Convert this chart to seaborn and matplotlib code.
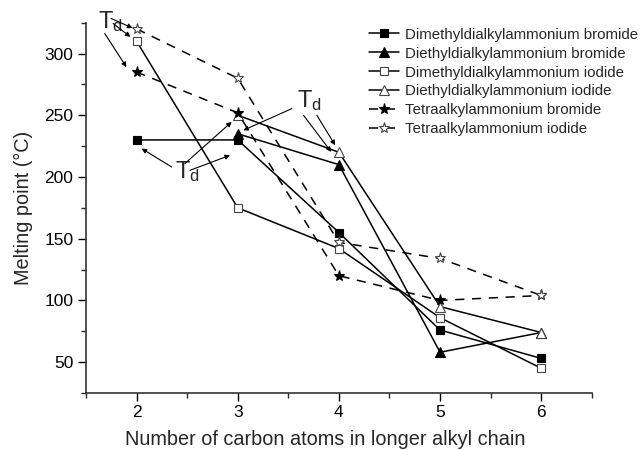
import matplotlib
matplotlib.use("Agg")
import matplotlib.pyplot as plt
import seaborn as sns
import pandas as pd

# Melting points (°C) versus length of the longer alkyl chain
carbons = [2, 3, 4, 5, 6]
dimethyl_bromide = [230, 230, 155, 76, 53]
diethyl_bromide_x = [3, 4, 5, 6]
diethyl_bromide = [235, 210, 58, 74]
dimethyl_iodide = [310, 175, 142, 86, 45]
diethyl_iodide_x = [3, 4, 5, 6]
diethyl_iodide = [250, 220, 95, 74]
tetra_bromide = [285, 252, 120, 100, 104]
tetra_iodide = [320, 280, 147, 134, 104]

series_names = [
    "Dimethyldialkylammonium bromide",
    "Diethyldialkylammonium bromide",
    "Dimethyldialkylammonium iodide",
    "Diethyldialkylammonium iodide",
    "Tetraalkylammonium bromide",
    "Tetraalkylammonium iodide",
]
series_x = [carbons, diethyl_bromide_x, carbons, diethyl_iodide_x, carbons, carbons]
series_y = [dimethyl_bromide, diethyl_bromide, dimethyl_iodide,
            diethyl_iodide, tetra_bromide, tetra_iodide]

frames = []
for name, xs, ys in zip(series_names, series_x, series_y):
    frames.append(pd.DataFrame({"carbons": xs, "mp": ys, "salt": name}))
df = pd.concat(frames, ignore_index=True)

sns.set_theme(style="ticks")
plt.rcParams["font.family"] = ["Liberation Sans", "DejaVu Sans"]
plt.rcParams["mathtext.default"] = "regular"

fig = plt.figure(figsize=(6.44, 4.5), dpi=100)
ax = fig.add_axes([0.1335, 0.1267, 0.7855, 0.8229])

styles = {
    "Dimethyldialkylammonium bromide": dict(marker="s", ls="-", mfc="black", ms=6),
    "Diethyldialkylammonium bromide": dict(marker="^", ls="-", mfc="black", ms=7.5),
    "Dimethyldialkylammonium iodide": dict(marker="s", ls="-", mfc="white", ms=6),
    "Diethyldialkylammonium iodide": dict(marker="^", ls="-", mfc="white", ms=7.5),
    "Tetraalkylammonium bromide": dict(marker="*", ls=(0, (6, 5)), mfc="black", ms=8),
    "Tetraalkylammonium iodide": dict(marker="*", ls=(0, (6, 5)), mfc="white", ms=8),
}

for name in series_names:
    st = styles[name]
    sub = df[df["salt"] == name]
    sns.lineplot(data=sub, x="carbons", y="mp", ax=ax, color="black",
                 marker=st["marker"], linestyle=st["ls"], linewidth=1.1,
                 markersize=st["ms"], markerfacecolor=st["mfc"],
                 markeredgecolor="black" if st["mfc"] == "black" else "#444444",
                 markeredgewidth=0.8, label=name, sort=False, errorbar=None)

ax.set_xlim(1.5, 6.5)
ax.set_ylim(25, 325)
ax.set_xticks([2, 3, 4, 5, 6])
ax.set_xticks([1.5, 2.5, 3.5, 4.5, 5.5, 6.5], minor=True)
ax.set_yticks([50, 100, 150, 200, 250, 300])
ax.set_yticks([25, 75, 125, 175, 225, 275, 325], minor=True)
ax.tick_params(axis="both", which="major", direction="out", length=6, width=1.0,
               labelsize=12.5, colors="black", pad=3)
ax.tick_params(axis="both", which="minor", direction="out", length=3.5, width=1.0)
for side in ("top", "right"):
    ax.spines[side].set_visible(False)
for side in ("left", "bottom"):
    ax.spines[side].set_linewidth(1.2)
    ax.spines[side].set_color("#333333")

ax.set_xlabel("Number of carbon atoms in longer alkyl chain", fontsize=14.3, labelpad=7)
ax.xaxis.label.set_x(0.4726)
ax.set_ylabel("Melting point (°C)", fontsize=14.3, labelpad=8)

leg = ax.legend(loc="upper left", bbox_to_anchor=(0.563, 0.952), bbox_transform=fig.transFigure,
                frameon=False, fontsize=10.8, handlelength=2.0, handletextpad=0.4,
                labelspacing=0.33, borderaxespad=0)

# Decomposition-temperature labels and their arrows
arrow_kw = dict(arrowstyle="-|>", color="black", lw=0.8, mutation_scale=7, shrinkA=0, shrinkB=0)
td_labels = [(1.617, 320.5), (2.379, 199), (3.587, 256.5)]
for tx, ty in td_labels:
    ax.text(tx, ty, "T$_d$", fontsize=17, ha="left", va="baseline", clip_on=False)

td_arrows = [
    ((1.748, 328.4), (1.960, 320.7)),
    ((1.768, 324.3), (1.94, 313.5)),
    ((1.686, 316.2), (1.90, 289.0)),
    ((2.347, 208.1), (2.05, 223.0)),
    ((2.528, 205.4), (2.924, 217.6)),
    ((2.478, 210.9), (2.94, 244.6)),
    ((3.535, 255.4), (3.055, 237.8)),
    ((3.65, 250.0), (3.924, 220.3)),
    ((3.782, 250.0), (3.963, 225.7)),
]
for start, end in td_arrows:
    ax.annotate("", xy=end, xytext=start, arrowprops=arrow_kw, annotation_clip=False)

fig.savefig("out.png", dpi=100)
